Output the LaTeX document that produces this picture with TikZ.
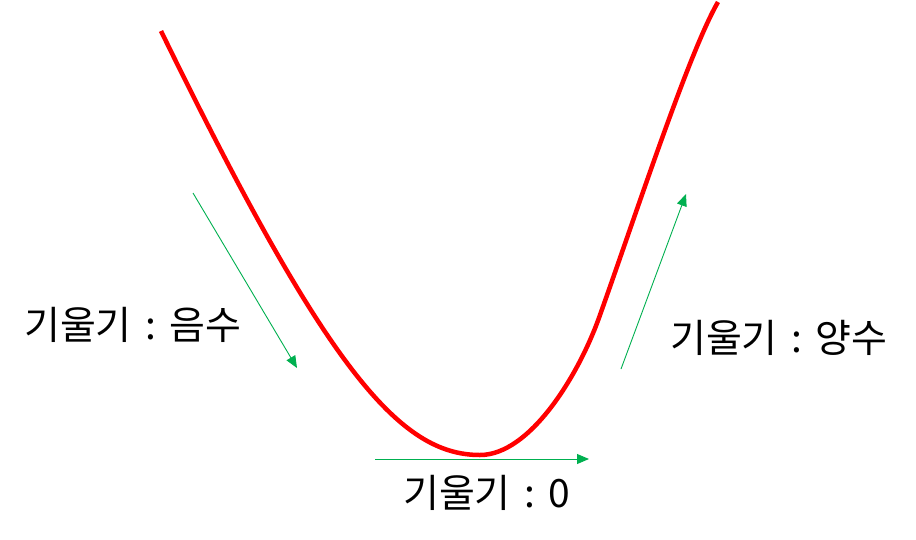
\documentclass[tikz,border=0pt]{standalone}
\usepackage{fontspec}
\setmainfont{Noto Sans CJK KR}
\usetikzlibrary{arrows.meta}
\definecolor{grn}{RGB}{0,176,80}
\tikzset{
  curve/.style={draw=red, line width=4.5pt, line cap=butt},
  slope/.style={draw=grn, line width=0.9pt, -{Triangle[length=12pt,width=10pt]}},
  lbl/.style={font=\fontsize{39}{43}\selectfont, inner sep=0pt, anchor=west}
}
\newcommand{\sepcolon}{\hspace{14pt}:\hspace{13pt}}
\begin{document}
\begin{tikzpicture}[x=1pt,y=-1pt]
\useasboundingbox[fill=white] (0,0) rectangle (916,539);
\coordinate (c0) at (161,31);
\coordinate (c1) at (480,455);
\coordinate (c2) at (600,315);
\coordinate (c3) at (718,2);
\draw[curve] (c0) .. controls (327,371) and (400,455) .. (c1)
  .. controls (530,455) and (579,375) .. (c2)
  .. controls (636,214) and (689,52) .. (c3);
\coordinate (l1) at (193,193); \coordinate (l2) at (297,368);
\coordinate (r1) at (621,369); \coordinate (r2) at (686,194);
\coordinate (b1) at (375,459); \coordinate (b2) at (589,459);
\draw[slope] (l1) -- (l2);
\draw[slope] (r1) -- (r2);
\draw[slope] (b1) -- (b2);
\node[lbl] (neg) at (24,325) {기울기\sepcolon 음수};
\node[lbl] (pos) at (670,338) {기울기\sepcolon 양수};
\node[lbl] (zero) at (403,493) {기울기\sepcolon 0};
\end{tikzpicture}
\end{document}
